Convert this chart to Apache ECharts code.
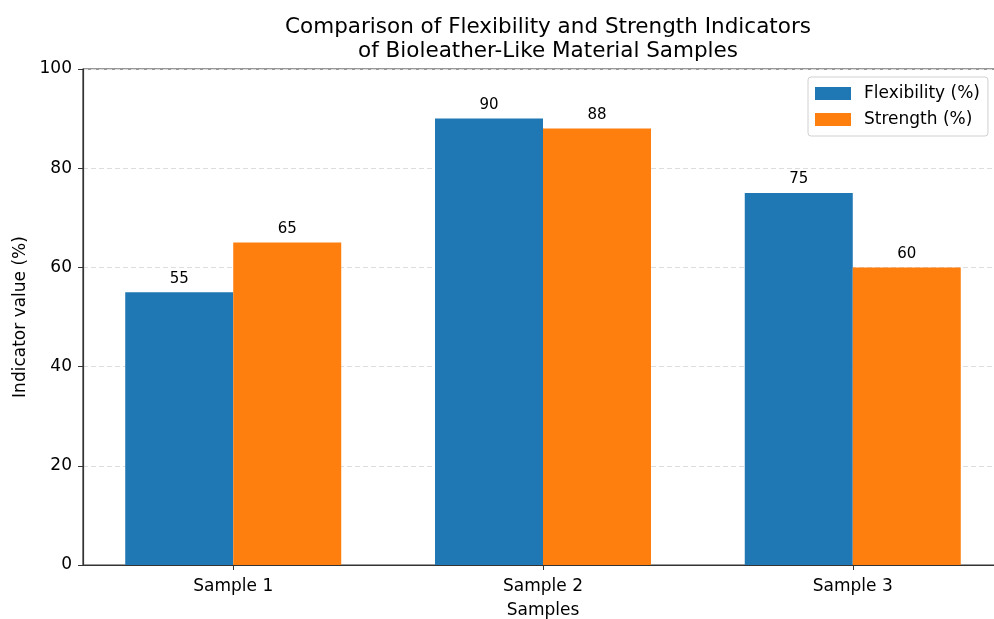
<!DOCTYPE html>
<html><head><meta charset="utf-8">
<script src="https://cdn.jsdelivr.net/npm/echarts@6/dist/echarts.min.js"></script>
<style>html,body{margin:0;padding:0;background:#fff}#c{width:994px;height:619px}</style>
</head><body><div id="c"></div>
<script>
const categories = ['Sample 1', 'Sample 2', 'Sample 3'];
const flexibility = [55, 90, 75];
const strength = [65, 88, 60];
const yTicks = [0, 20, 40, 60, 80, 100];
const seriesNames = ['Flexibility (%)', 'Strength (%)'];

const chart = echarts.init(document.getElementById('c'), null, {renderer: 'canvas'});
const font = 'DejaVu Sans';
const toPts = arr => arr.map((v, i) => [i, v]);
const labelCfg = {show: true, position: 'top', distance: 6, color: '#000', fontFamily: font, fontSize: 15};
chart.setOption({
  animation: false,
  backgroundColor: '#fff',
  title: {
    text: 'Comparison of Flexibility and Strength Indicators\nof Bioleather-Like Material Samples',
    left: 543, top: 10, textAlign: 'center',
    textStyle: {fontFamily: font, fontSize: 21.5, fontWeight: 'normal', color: '#000', lineHeight: 24}
  },
  legend: {
    orient: 'vertical', left: 808, top: 77, icon: 'rect',
    padding: [8, 8, 8, 7], itemGap: 9, itemWidth: 36, itemHeight: 13,
    borderColor: '#d0d0d0', borderWidth: 1, borderRadius: 3,
    textStyle: {fontFamily: font, fontSize: 17, color: '#000', padding: [0, 0, 0, 8]},
    data: seriesNames
  },
  grid: {left: 83, width: 920, top: 69, height: 496, outerBoundsMode: 'none', containLabel: false, show: true, borderColor: '#333', borderWidth: 1.2, backgroundColor: 'transparent'},
  xAxis: {
    type: 'value', min: -0.485, max: 2.485,
    name: 'Samples', nameLocation: 'middle', nameGap: 37,
    nameTextStyle: {fontFamily: font, fontSize: 17, color: '#000'},
    axisLine: {show: true, onZero: false, lineStyle: {color: '#333', width: 1.2}},
    axisTick: {show: true, customValues: [0, 1, 2], length: 5, lineStyle: {color: '#333'}},
    axisLabel: {customValues: [0, 1, 2], formatter: v => categories[Math.round(v)], fontFamily: font, fontSize: 17, color: '#000', margin: 13},
    splitLine: {show: false}
  },
  yAxis: {
    type: 'value', min: 0, max: 100, interval: 20,
    name: 'Indicator value (%)', nameLocation: 'middle', nameGap: 54, nameRotate: 90,
    nameTextStyle: {fontFamily: font, fontSize: 17, color: '#000'},
    axisLine: {show: true, onZero: false, lineStyle: {color: '#333', width: 1.2}},
    axisTick: {show: true, length: 5, lineStyle: {color: '#333'}},
    axisLabel: {fontFamily: font, fontSize: 17, color: '#000', margin: 11, formatter: v => yTicks.includes(v) ? String(v) : ''},
    splitLine: {show: true, lineStyle: {color: '#dddddd', type: [5, 3], width: 1}}
  },
  series: [
    {name: seriesNames[0], type: 'bar', data: toPts(flexibility), barWidth: 108, barGap: '0%', itemStyle: {color: '#1f77b4'}, label: labelCfg},
    {name: seriesNames[1], type: 'bar', data: toPts(strength), barWidth: 108, barGap: '0%', itemStyle: {color: '#ff7f0e'}, label: labelCfg}
  ]
});
</script></body></html>
